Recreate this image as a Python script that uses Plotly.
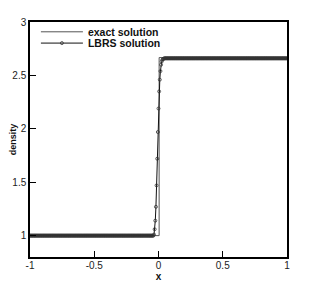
import numpy as np
import plotly.graph_objects as go

# ---- data ----
# exact solution (shock at x ~ 0.005)
x_exact = [-1.0, 0.005, 0.005, 1.0]
rho_exact = [1.0, 1.0, 2.667, 2.667]

# LBRS solution on a uniform mesh, dx = 0.005
dx = 0.005
rho_left_state = 1.0
rho_right_state = 2.66
x_trans = [-0.04, -0.035, -0.03, -0.025, -0.02, -0.015, -0.01, -0.005,
           0.0, 0.005, 0.01, 0.015, 0.02, 0.025, 0.03, 0.035, 0.04]
rho_trans = [1.0, 1.01, 1.06, 1.14, 1.27, 1.47, 1.72, 1.97,
             2.19, 2.35, 2.46, 2.54, 2.60, 2.63, 2.645, 2.652, 2.656]

x_left = np.round(np.arange(-1.0, -0.04 - 1e-9, dx), 4)
x_right = np.round(np.arange(0.045, 1.0 + 1e-9, dx), 4)
x_lbrs = list(x_left) + x_trans + list(x_right)
rho_lbrs = [rho_left_state] * len(x_left) + rho_trans + [rho_right_state] * len(x_right)

x_ticks = [-1, -0.5, 0, 0.5, 1]
x_tick_labels = ["-1", "-0.5", "0", "0.5", "1"]
y_ticks = [1, 1.5, 2, 2.5, 3]
y_tick_labels = ["1", "1.5", "2", "2.5", "3"]

font_family = "Liberation Sans, Arial, sans-serif"

fig = go.Figure()
fig.add_trace(go.Scatter(
    x=x_exact, y=rho_exact, mode="lines", name="<b>exact solution</b>",
    line=dict(color="#555555", width=1), legend="legend",
))
fig.add_trace(go.Scatter(
    x=x_lbrs, y=rho_lbrs, mode="lines+markers", name="<b>LBRS solution</b>",
    line=dict(color="#111111", width=1),
    marker=dict(symbol="circle-open", size=3, color="#333333",
                line=dict(width=0.8, color="#333333")),
    legend="legend2",
))

legend_style = dict(
    x=0.023, xanchor="left", yanchor="top",
    bgcolor="rgba(0,0,0,0)", borderwidth=0,
    font=dict(size=10.5, color="#111111", family=font_family),
    itemwidth=42,
)

fig.update_layout(
    width=306, height=276,
    margin=dict(l=22, r=27, t=14, b=27, autoexpand=False),
    paper_bgcolor="white", plot_bgcolor="white",
    font=dict(family=font_family, size=10, color="#222222"),
    showlegend=True,
    legend=dict(y=1.02, **legend_style),
    legend2=dict(y=0.972, **legend_style),
)
fig.update_xaxes(
    range=[-1, 1], tickvals=x_ticks, ticktext=x_tick_labels,
    ticks="inside", ticklen=6, tickwidth=1.2, tickcolor="black",
    showline=True, linecolor="black", linewidth=1.5, mirror=True,
    showgrid=False, zeroline=False, automargin=False,
    ticklabelstandoff=-2,
    tickfont=dict(size=10, color="#222222"),
    title=dict(text="<b>x</b>", font=dict(size=10, color="#111111"), standoff=0),
)
fig.update_yaxes(
    range=[0.8, 3], tickvals=y_ticks, ticktext=y_tick_labels,
    ticks="inside", ticklen=6, tickwidth=1.2, tickcolor="black",
    showline=True, linecolor="black", linewidth=1.5, mirror=True,
    showgrid=False, zeroline=False, automargin=False,
    tickfont=dict(size=10, color="#222222"),
    title=dict(text="<b>density</b>", font=dict(size=9, color="#111111"), standoff=8),
)

fig.write_html("out.html")
